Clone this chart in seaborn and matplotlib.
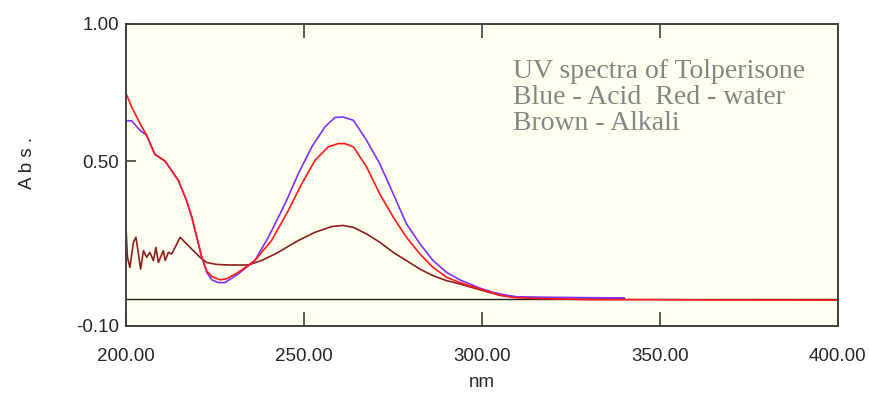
import numpy as np
import pandas as pd
import matplotlib
matplotlib.use("Agg")
import matplotlib.pyplot as plt
import seaborn as sns

# UV spectra of Tolperisone
acid_nm = [200.0, 201.6, 203.9, 205.8, 208.1, 211.0, 214.7, 217.0, 218.5, 221.3,
           222.7, 224.1, 225.9, 227.8, 231.5, 236.2, 240.0, 244.7, 248.4, 252.2,
           255.9, 258.7, 261.0, 263.9, 267.6, 271.3, 275.1, 278.8, 282.6, 286.3,
           290.1, 293.8, 299.4, 303.2, 306.9, 310.0, 318.0, 340.0]
acid_abs = [0.647, 0.647, 0.613, 0.594, 0.525, 0.500, 0.430, 0.357, 0.296, 0.150,
            0.095, 0.068, 0.058, 0.058, 0.089, 0.138, 0.223, 0.345, 0.454, 0.552,
            0.625, 0.659, 0.661, 0.649, 0.576, 0.491, 0.381, 0.272, 0.199, 0.138,
            0.095, 0.068, 0.038, 0.022, 0.012, 0.006, 0.004, 0.002]

water_nm = [200.0, 201.5, 203.9, 205.8, 208.1, 211.0, 214.7, 217.0, 218.5, 221.3,
            222.7, 224.1, 226.4, 228.3, 231.5, 236.2, 240.9, 245.6, 249.4, 253.1,
            256.8, 259.6, 261.5, 263.9, 267.6, 271.3, 275.1, 278.8, 282.6, 286.3,
            290.1, 293.8, 299.4, 305.1, 308.7, 315.0, 330.0, 400.0]
water_abs = [0.747, 0.700, 0.638, 0.594, 0.525, 0.500, 0.430, 0.357, 0.296, 0.150,
             0.100, 0.080, 0.068, 0.072, 0.095, 0.138, 0.211, 0.320, 0.418, 0.503,
             0.552, 0.564, 0.564, 0.552, 0.479, 0.381, 0.296, 0.223, 0.162, 0.113,
             0.077, 0.058, 0.035, 0.012, 0.004, 0.000, -0.004, -0.006]

alkali_nm = [200.0, 200.4, 201.1, 202.1, 202.8, 203.5, 204.1, 204.9, 205.8, 206.7,
             207.7, 208.4, 209.1, 209.7, 210.5, 211.0, 211.9, 212.8, 213.8, 215.2,
             218.0, 220.8, 222.7, 225.5, 229.2, 234.4, 238.0, 241.9, 248.4, 253.1,
             257.8, 261.0, 263.9, 267.6, 271.3, 275.1, 278.8, 282.6, 286.3, 290.1,
             293.8, 299.4, 305.0, 310.0, 320.0, 340.0]
alkali_abs = [0.259, 0.150, 0.113, 0.205, 0.223, 0.162, 0.107, 0.174, 0.150, 0.168,
              0.138, 0.186, 0.131, 0.150, 0.174, 0.138, 0.168, 0.162, 0.186, 0.223,
              0.186, 0.150, 0.131, 0.124, 0.122, 0.122, 0.138, 0.162, 0.211, 0.241,
              0.262, 0.266, 0.259, 0.235, 0.205, 0.168, 0.138, 0.107, 0.083, 0.065,
              0.053, 0.032, 0.012, 0.004, 0.003, 0.002]

baseline_nm = [200.0, 400.0]
baseline_abs = [0.0, 0.0]

sns.set_style("white")
plt.rcParams['font.family'] = ['Liberation Sans', 'DejaVu Sans']

fig = plt.figure(figsize=(8.69, 3.98), dpi=100)
ax = fig.add_axes([0.145, 0.181, 0.819, 0.759])
ax.set_facecolor("#fffff0")

sns.lineplot(x=baseline_nm, y=baseline_abs, color="#202020", lw=1.0, ax=ax)
sns.lineplot(x=alkali_nm, y=alkali_abs, color="#8b1f1f", lw=1.2, sort=False,
             estimator=None, ax=ax)
sns.lineplot(x=acid_nm, y=acid_abs, color="#7f2fff", lw=1.2, sort=False,
             estimator=None, ax=ax)
sns.lineplot(x=water_nm, y=water_abs, color="#ff1a1a", lw=1.2, sort=False,
             estimator=None, ax=ax)

ax.set_xlim(200, 400)
ax.set_ylim(-0.10, 1.00)
ax.set_xticks([200, 250, 300, 350, 400])
ax.set_xticklabels(["200.00", "250.00", "300.00", "350.00", "400.00"])
ax.set_yticks([-0.10, 0.50, 1.00])
ax.set_yticklabels(["-0.10", "0.50", "1.00"])
ax.tick_params(axis='x', direction='in', length=10, width=1.2, color="#404040",
               top=True, bottom=True, labelsize=13.5, pad=16)
ax.tick_params(axis='y', direction='in', length=7, width=1.2, color="#404040",
               left=True, right=False, labelsize=13.5, pad=5)
for s in ax.spines.values():
    s.set_color("#404040")
    s.set_linewidth(1.4)

ax.set_xlabel("nm", fontsize=13.5)
ax.xaxis.set_label_coords(0.5, -0.16)
ax.set_ylabel("A b s .", fontsize=13.5)
ax.yaxis.set_label_coords(-0.126, 0.54)

ax.text(0.544, 0.885, "UV spectra of Tolperisone\nBlue - Acid  Red - water\nBrown - Alkali",
        transform=ax.transAxes, family=['Liberation Serif', 'DejaVu Serif'],
        fontsize=20, color="#858585", va="top", ha="left", linespacing=1.07)

fig.savefig("out.png", dpi=100)
